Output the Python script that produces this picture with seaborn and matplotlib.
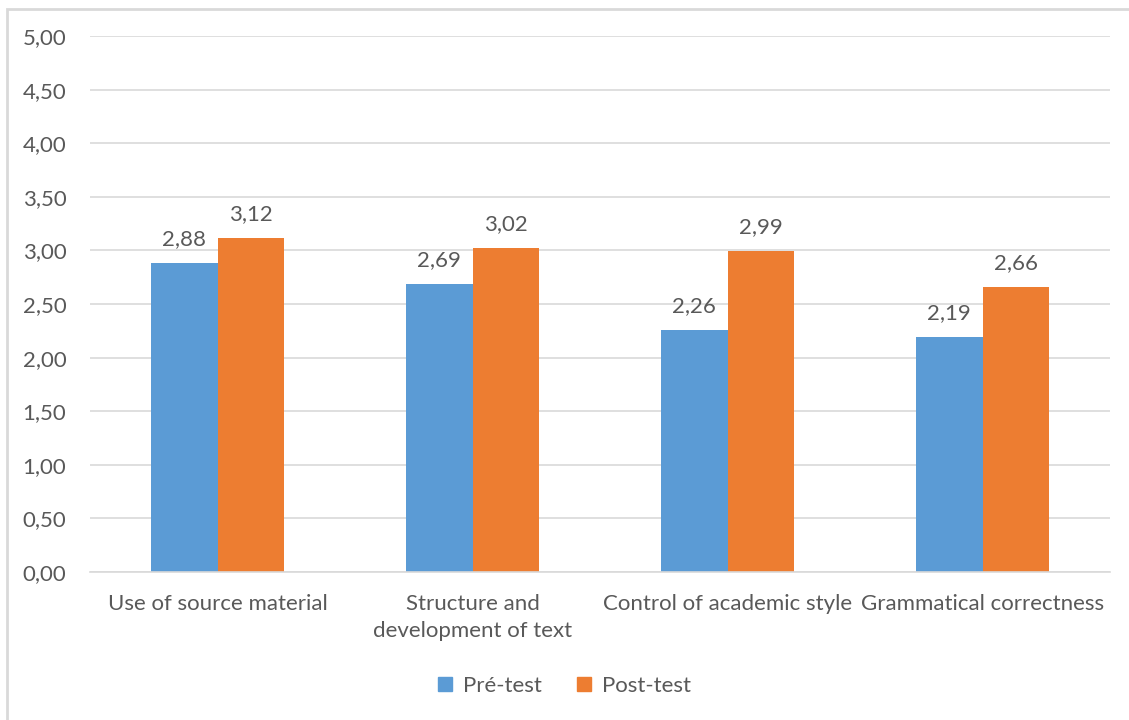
import pandas as pd
import matplotlib.pyplot as plt
import seaborn as sns
from matplotlib.patches import Rectangle
from matplotlib.ticker import FuncFormatter

# Dados do gráfico
categorias = ['Use of source material', 'Structure and\ndevelopment of text',
              'Control of academic style', 'Grammatical correctness']
series = ['Pré-test', 'Post-test']
pre_test = [2.88, 2.69, 2.26, 2.19]
post_test = [3.12, 3.02, 2.99, 2.66]

cores = ['#5B9BD5', '#ED7D31']
cinza_texto = '#595959'

df = pd.DataFrame({
    'categoria': categorias * 2,
    'serie': [series[0]] * 4 + [series[1]] * 4,
    'valor': pre_test + post_test,
})

sns.set_style('white')
plt.rcParams['font.family'] = ['Lato', 'DejaVu Sans']

fig = plt.figure(figsize=(11.29, 7.2), dpi=100)
ax = fig.add_axes([90 / 1129, 1 - 572 / 720, 1020 / 1129, 536 / 720])

sns.barplot(data=df, x='categoria', y='valor', hue='serie', palette=cores,
            width=0.525, gap=0, saturation=1, linewidth=0, ax=ax, legend=False)

ax.set_ylim(0, 5)
ax.set_xlim(-0.5, 3.5)
ax.set_yticks([i * 0.5 for i in range(11)])
ax.yaxis.set_major_formatter(FuncFormatter(lambda v, p: f'{v:.2f}'.replace('.', ',')))
ax.grid(axis='y', color='#D9D9D9', linewidth=1.2)
ax.set_axisbelow(True)
for lado in ['top', 'right', 'left']:
    ax.spines[lado].set_visible(False)
ax.spines['bottom'].set_color('#D9D9D9')
ax.spines['bottom'].set_linewidth(1.2)
ax.tick_params(axis='both', length=0, labelsize=16, labelcolor=cinza_texto)
ax.tick_params(axis='y', pad=17)
ax.tick_params(axis='x', pad=16)
for rotulo in ax.get_xticklabels():
    rotulo.set_linespacing(1.45)
ax.set_xlabel('')
ax.set_ylabel('')

# Rótulos de valores
for cont in ax.containers:
    ax.bar_label(cont, labels=[f'{b.get_height():.2f}'.replace('.', ',') for b in cont],
                 padding=10, fontsize=16, color=cinza_texto)

# Legenda
handles = [Rectangle((0, 0), 1, 1, color=c) for c in cores]
fig.legend(handles, series, loc='center', bbox_to_anchor=(0.5, 1 - 686 / 720),
           ncol=2, frameon=False, fontsize=16, labelcolor=cinza_texto,
           handlelength=0.6, handleheight=0.6, handletextpad=0.5, columnspacing=1.6)

# Borda do gráfico
fig.patches.append(Rectangle((7 / 1129, -0.05), 1.1, 1 - 9 / 720 + 0.05,
                             transform=fig.transFigure, fill=False,
                             edgecolor='#D9D9D9', linewidth=2))

fig.savefig('out.png', dpi=100)
